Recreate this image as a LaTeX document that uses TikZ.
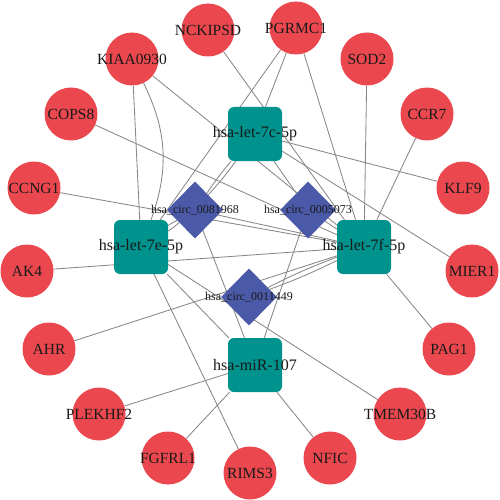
\documentclass[tikz,border=0pt]{standalone}
\usepackage{fontspec}
\setmainfont{Liberation Serif}
\usepackage{tikz}
\usetikzlibrary{shapes.geometric, backgrounds}
\definecolor{genered}{RGB}{234,72,78}
\definecolor{mirteal}{RGB}{0,146,140}
\definecolor{circblue}{RGB}{75,90,168}
\definecolor{edgegray}{RGB}{135,135,135}
\tikzset{
    genenode/.style = {circle, fill=genered, minimum size=53pt, inner sep=0pt},
    mirnode/.style = {rectangle, rounded corners=6pt, fill=mirteal, minimum size=54pt, inner sep=0pt},
    circnode/.style = {diamond, fill=circblue, minimum width=56pt, minimum height=57pt, inner sep=0pt},
    genetext/.style = {font=\fontsize{15.5}{16}\selectfont, text=black!90, inner sep=0pt},
    mirtext/.style = {font=\fontsize{16}{17}\selectfont, text=black!90, inner sep=0pt},
    circtext/.style = {font=\fontsize{12}{12}\selectfont, text=black!90, inner sep=0pt},
    connect/.style = {draw=edgegray, line width=0.85pt}
}

\begin{document}
\begin{tikzpicture}[x=1pt, y=-1pt]
    \useasboundingbox (0,0) rectangle (499,500);

    % miRNA boxes
    \node [name=mir7c, mirnode, label={[mirtext]center:hsa-let-7c-5p}] at (255,134) {};
    \node [name=mir7e, mirnode, label={[mirtext]center:hsa-let-7e-5p}] at (141,247) {};
    \node [name=mir7f, mirnode, label={[mirtext]center:hsa-let-7f-5p}] at (364,247) {};
    \node [name=mir107, mirnode, label={[mirtext]center:hsa-miR-107}] at (255,365) {};

    % circRNA diamonds
    \node [name=circa, circnode, label={[circtext]center:hsa\_circ\_0081968}] at (195,210) {};
    \node [name=circb, circnode, label={[circtext]center:hsa\_circ\_0005073}] at (308,210) {};
    \node [name=circc, circnode, label={[circtext]center:hsa\_circ\_0011449}] at (249,297) {};

    % target genes round the ring
    \node [name=nckipsd, genenode, label={[genetext]center:NCKIPSD}] at (208,30) {};
    \node [name=pgrmc, genenode, label={[genetext]center:PGRMC1}] at (296,28) {};
    \node [name=kiaa, genenode, label={[genetext]center:KIAA0930}] at (132,59) {};
    \node [name=sod, genenode, label={[genetext]center:SOD2}] at (367,59) {};
    \node [name=cops, genenode, label={[genetext]center:COPS8}] at (71,114) {};
    \node [name=ccr, genenode, label={[genetext]center:CCR7}] at (427,114) {};
    \node [name=ccng, genenode, label={[genetext]center:CCNG1}] at (34,188) {};
    \node [name=klf, genenode, label={[genetext]center:KLF9}] at (463,188) {};
    \node [name=ak, genenode, label={[genetext]center:AK4}] at (27,271) {};
    \node [name=mier, genenode, label={[genetext]center:MIER1}] at (472,271) {};
    \node [name=ahr, genenode, label={[genetext]center:AHR}] at (49,349) {};
    \node [name=pag, genenode, label={[genetext]center:PAG1}] at (449,349) {};
    \node [name=plekhf, genenode, label={[genetext]center:PLEKHF2}] at (99,414) {};
    \node [name=tmem, genenode, label={[genetext]center:TMEM30B}] at (400,414) {};
    \node [name=fgfrl, genenode, label={[genetext]center:FGFRL1}] at (168,458) {};
    \node [name=nfic, genenode, label={[genetext]center:NFIC}] at (330,458) {};
    \node [name=rims, genenode, label={[genetext]center:RIMS3}] at (250,473) {};

    \begin{scope}[on background layer]
    % gene - miRNA
    \draw (nckipsd) edge[connect] (mir7f);
    \draw (pgrmc) edge[connect] (mir7c);
    \draw (pgrmc) edge[connect] (mir7e);
    \draw (pgrmc) edge[connect] (mir7f);
    \draw (kiaa) edge[connect] (mir7e);
    \draw (kiaa) edge[connect, bend left=23] (mir7e);
    \draw (kiaa) edge[connect] (mir7f);
    \draw (sod) edge[connect] (mir7f);
    \draw (cops) edge[connect] (mir7f);
    \draw (ccr) edge[connect] (mir7f);
    \draw (ccng) edge[connect] (mir7f);
    \draw (klf) edge[connect] (mir7c);
    \draw (ak) edge[connect] (mir7f);
    \draw (mier) edge[connect] (mir7c);
    \draw (ahr) edge[connect] (mir7f);
    \draw (pag) edge[connect] (mir7f);
    \draw (plekhf) edge[connect] (mir107);
    \draw (tmem) edge[connect] (mir7e);
    \draw (fgfrl) edge[connect] (mir107);
    \draw (nfic) edge[connect] (mir107);
    \draw (rims) edge[connect] (mir7e);
    \draw (mir7e) edge[connect] (mir107);
    % circRNA - miRNA
    \draw (circa) edge[connect, bend left=3] (mir7c);
    \draw (circa) edge[connect, bend right=3] (mir7c);
    \draw (circa) edge[connect, bend left=4] (mir7e);
    \draw (circa) edge[connect, bend right=4] (mir7e);
    \draw (circa) edge[connect] (mir7f);
    \draw (circa) edge[connect] (mir107);
    \draw (circb) edge[connect] (mir7c);
    \draw (circb) edge[connect] (mir7f);
    \draw (circb) edge[connect] (mir107);
    \draw (circc) edge[connect, bend left=3] (mir7f);
    \draw (circc) edge[connect, bend right=3] (mir7f);
    \end{scope}
\end{tikzpicture}
\end{document}
